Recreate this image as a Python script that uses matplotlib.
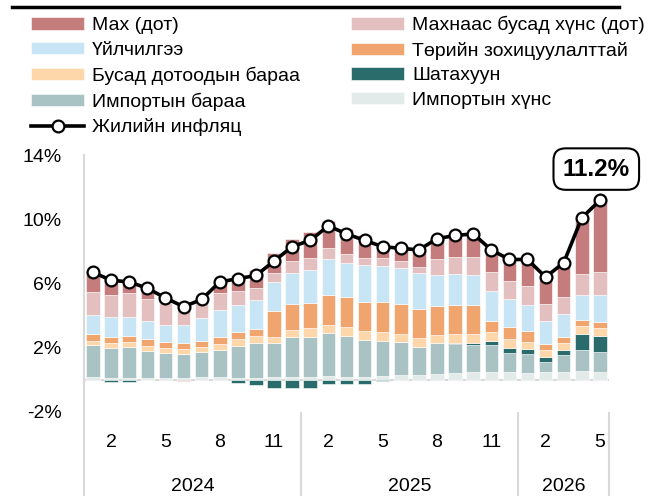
import matplotlib
matplotlib.use("Agg")
import matplotlib.pyplot as plt
from matplotlib.lines import Line2D

plt.rcParams["font.family"] = ["Liberation Sans", "DejaVu Sans"]

# Jan 2024 .. May 2026, contributions in percentage points
months = ["1", "2", "3", "4", "5", "6", "7", "8", "9", "10", "11", "12"] * 2 + ["1", "2", "3", "4", "5"]
years = ["2024", "2025", "2026"]

imp_food = [0.17, 0.12, 0.12, 0.12, 0.12, 0.12, 0.17, 0.15, 0.12, 0.12, 0.17, 0.17, 0.17, 0.20, 0.17,
            0.17, 0.22, 0.27, 0.27, 0.37, 0.42, 0.44, 0.44, 0.44, 0.42, 0.49, 0.49, 0.52, 0.49]
imp_goods = [1.99, 1.83, 1.89, 1.68, 1.56, 1.47, 1.57, 1.69, 1.97, 2.18, 2.13, 2.51, 2.51, 2.69, 2.57,
             2.30, 2.19, 2.09, 1.78, 1.89, 1.82, 1.72, 1.72, 1.24, 1.17, 0.62, 1.04, 1.32, 1.25]
fuel = [0.0, -0.15, -0.15, -0.05, 0.0, 0.0, 0.0, 0.0, -0.2, -0.35, -0.5, -0.5, -0.5, -0.3, -0.3,
        -0.3, -0.12, 0.0, 0.0, 0.0, 0.06, 0.10, 0.25, 0.27, 0.30, 0.28, 0.31, 1.0, 1.0]
oth_dom = [0.27, 0.31, 0.31, 0.31, 0.29, 0.32, 0.31, 0.38, 0.44, 0.42, 0.38, 0.41, 0.56, 0.52, 0.52,
           0.56, 0.54, 0.48, 0.52, 0.52, 0.52, 0.56, 0.58, 0.56, 0.47, 0.45, 0.46, 0.50, 0.50]
regulated = [0.41, 0.42, 0.38, 0.40, 0.37, 0.35, 0.38, 0.42, 0.44, 0.44, 1.62, 1.61, 1.52, 1.87, 1.88,
             1.83, 1.87, 1.88, 1.84, 1.83, 1.84, 1.84, 0.67, 0.75, 0.69, 0.38, 0.38, 0.38, 0.38]
services = [1.19, 1.25, 1.19, 1.15, 1.07, 1.15, 1.39, 1.70, 1.69, 1.81, 1.77, 1.94, 2.08, 2.25, 2.16,
            2.30, 2.29, 2.23, 2.23, 1.92, 1.91, 1.87, 1.87, 1.75, 1.61, 1.44, 1.39, 1.56, 1.66]
nonmeat = [1.46, 1.35, 1.50, 1.35, 1.35, 1.24, 1.04, 1.05, 0.87, 0.77, 0.61, 0.77, 0.73, 0.71, 0.52,
           0.41, 0.46, 0.48, 0.41, 0.98, 1.11, 1.15, 1.17, 1.15, 1.16, 1.06, 1.07, 1.31, 1.46]
meat = [1.21, 1.07, 0.86, 0.74, 0.34, -0.10, 0.14, 0.71, 0.97, 1.11, 1.22, 1.39, 1.63, 1.66, 1.58,
        1.43, 0.85, 0.77, 1.05, 1.29, 1.32, 1.42, 1.40, 1.34, 1.68, 1.68, 2.16, 3.51, 4.46]
inflation = [6.7, 6.2, 6.1, 5.7, 5.1, 4.55, 5.0, 6.1, 6.3, 6.5, 7.4, 8.3, 8.7, 9.6, 9.1,
             8.7, 8.3, 8.2, 8.1, 8.8, 9.0, 9.1, 8.1, 7.5, 7.5, 6.4, 7.3, 10.1, 11.2]

series = [
    ("Импортын хүнс", imp_food, "#e3ebea"),
    ("Импортын бараа", imp_goods, "#a9c3c4"),
    ("Шатахуун", fuel, "#2a6b6b"),
    ("Бусад дотоодын бараа", oth_dom, "#fdd6a9"),
    ("Төрийн зохицуулалттай", regulated, "#f0a56f"),
    ("Үйлчилгээ", services, "#c7e5f5"),
    ("Махнаас бусад хүнс (дот)", nonmeat, "#e3bfc0"),
    ("Мах (дот)", meat, "#c47c7c"),
]

x = list(range(len(inflation)))
fs = 14

fig = plt.figure(figsize=(6.56, 4.96), dpi=100)
ax = fig.add_axes([0.128, 0.0, 0.8003, 0.6875])
ax.set_xlim(-0.5, len(x) - 0.5)
ax.set_ylim(-7.28, 14.03)

pos_base = [0.0] * len(x)
neg_base = [0.0] * len(x)
handles = {}
for name, vals, col in series:
    bottoms = []
    for i, v in enumerate(vals):
        if v >= 0:
            bottoms.append(pos_base[i])
            pos_base[i] += v
        else:
            bottoms.append(neg_base[i])
            neg_base[i] += v
    handles[name] = ax.bar(x, vals, bottom=bottoms, width=0.75, color=col,
                           edgecolor="white", linewidth=0.4, zorder=2)

ax.axhline(0, color="#d9d9d9", lw=1.5, zorder=1)
line, = ax.plot(x, inflation, color="black", lw=2.6, marker="o", ms=8.5,
                mfc="white", mec="black", mew=1.6, zorder=4)

ax.annotate("11.2%", xy=(x[-1], inflation[-1]), xytext=(27.8, 13.15),
            ha="center", va="center", fontsize=17.5, fontweight="bold",
            bbox=dict(boxstyle="round,pad=0.38,rounding_size=0.5", fc="white", ec="black", lw=1.5),
            zorder=5)

# axes styling
for s in ["top", "right", "bottom"]:
    ax.spines[s].set_visible(False)
ax.spines["left"].set_color("#d9d9d9")
ax.spines["left"].set_linewidth(1.5)
ax.set_yticks([-2, 2, 6, 10, 14])
ax.set_yticklabels(["-2%", "2%", "6%", "10%", "14%"], fontsize=fs)
ax.tick_params(axis="y", length=0, pad=16)
ax.set_xticks([])

# month and year labels
for i in x:
    if i % 3 == 1:
        ax.text(i, -3.95, months[i], ha="center", va="center", fontsize=fs)
for yr, c in zip(years, [5.5, 17.5, 26]):
    ax.text(c, -6.7, yr, ha="center", va="center", fontsize=fs)
for sep in [11.5, 23.5, 28.5]:
    ax.plot([sep, sep], [-2.1, -7.28], color="#d9d9d9", lw=1.5, clip_on=False)

order = ["Мах (дот)", "Үйлчилгээ", "Бусад дотоодын бараа", "Импортын бараа", None,
         "Махнаас бусад хүнс (дот)", "Төрийн зохицуулалттай", "Шатахуун", "Импортын хүнс"]
hs, ls = [], []
for n in order:
    if n is None:
        hs.append(line)
        ls.append("Жилийн инфляц")
    else:
        hs.append(handles[n])
        ls.append(n)
fig.legend(hs, ls, ncol=2, loc="upper left", bbox_to_anchor=(0.047, 0.968),
           frameon=False, fontsize=fs, borderpad=0, borderaxespad=0,
           handlelength=2.75, handleheight=0.6, handletextpad=0.4,
           labelspacing=0.39, columnspacing=2.6)

fig.add_artist(Line2D([12 / 656, 619 / 656], [1 - 7 / 496] * 2, color="black", lw=2.5))

fig.savefig("out.png", dpi=100)
